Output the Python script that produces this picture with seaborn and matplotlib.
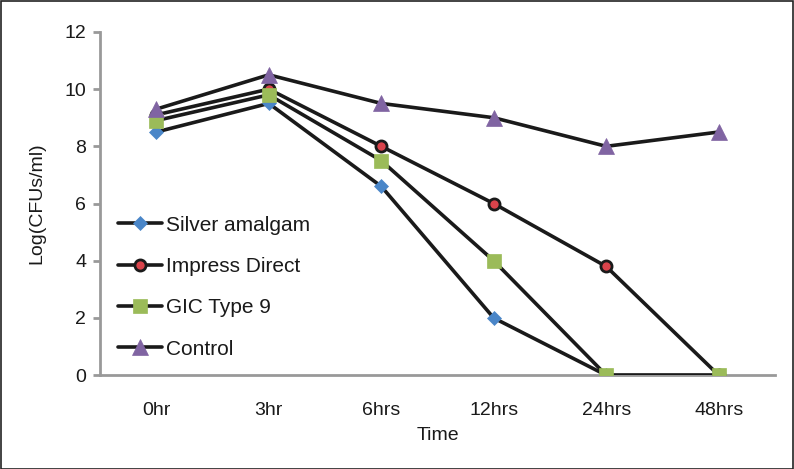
import matplotlib
matplotlib.use("Agg")
import matplotlib.pyplot as plt
import seaborn as sns
import pandas as pd
from matplotlib.lines import Line2D
from matplotlib.patches import Rectangle

times = ["0hr", "3hr", "6hrs", "12hrs", "24hrs", "48hrs"]
silver_amalgam = [8.5, 9.5, 6.6, 2.0, 0.0, 0.0]
impress_direct = [9.1, 10.0, 8.0, 6.0, 3.8, 0.0]
gic_type9 = [8.9, 9.8, 7.5, 4.0, 0.0, 0.0]
control = [9.3, 10.5, 9.5, 9.0, 8.0, 8.5]

sns.set_theme(style="white")
plt.rcParams['font.family'] = ['Liberation Sans', 'DejaVu Sans']

fig = plt.figure(figsize=(7.94, 4.69), dpi=100)
ax = fig.add_axes([0.126, 0.200, 0.850, 0.732])

series = [
    ("Silver amalgam", silver_amalgam, dict(marker="D", markersize=7.5, markerfacecolor="#4a86c8", markeredgecolor="#4a86c8", markeredgewidth=0.5)),
    ("Impress Direct", impress_direct, dict(marker="o", markersize=8, markerfacecolor="#d9434b", markeredgecolor="#1a1a1a", markeredgewidth=2)),
    ("GIC Type 9", gic_type9, dict(marker="s", markersize=9.5, markerfacecolor="#9bbb59", markeredgecolor="#9bbb59", markeredgewidth=0.5)),
    ("Control", control, dict(marker="^", markersize=11, markerfacecolor="#8064a2", markeredgecolor="#8064a2", markeredgewidth=0.5)),
]

handles = []
for name, vals, mk in series:
    df = pd.DataFrame({"Time": times, "Value": vals})
    sns.lineplot(data=df, x="Time", y="Value", ax=ax, color="#1a1a1a", linewidth=2.6, sort=False, **mk)
    handles.append(Line2D([0], [0], color="#1a1a1a", linewidth=2.6, **mk))

ax.set_xlim(-0.5, 5.5)
ax.set_ylim(0, 12)
ax.set_yticks(range(0, 13, 2))
ax.set_xlabel("Time", fontsize=14, color="#1a1a1a", labelpad=6)
ax.set_ylabel("Log(CFUs/ml)", fontsize=14, color="#1a1a1a", labelpad=14)

for s in ["top", "right"]:
    ax.spines[s].set_visible(False)
for s in ["left", "bottom"]:
    ax.spines[s].set_color("#999999")
    ax.spines[s].set_linewidth(2)
ax.spines["bottom"].set_zorder(0)

ax.tick_params(axis="y", which="both", left=True, length=5, width=2, color="#999999",
               labelsize=14, labelcolor="#1a1a1a", direction="out", pad=5)
ax.tick_params(axis="x", bottom=False, labelsize=14, labelcolor="#1a1a1a", pad=13)

leg = ax.legend(handles, [s[0] for s in series], loc="lower left",
                bbox_to_anchor=(0.008, 0.012), frameon=False, fontsize=15,
                labelspacing=1.07, handlelength=2.1, handletextpad=0.2,
                borderaxespad=0.2)
for t in leg.get_texts():
    t.set_color("#1a1a1a")

fig.patches.append(Rectangle((0.001, 0.001), 0.998, 0.997, transform=fig.transFigure,
                             fill=False, edgecolor="#222222", linewidth=1.2))

fig.savefig("out.png", dpi=100)
